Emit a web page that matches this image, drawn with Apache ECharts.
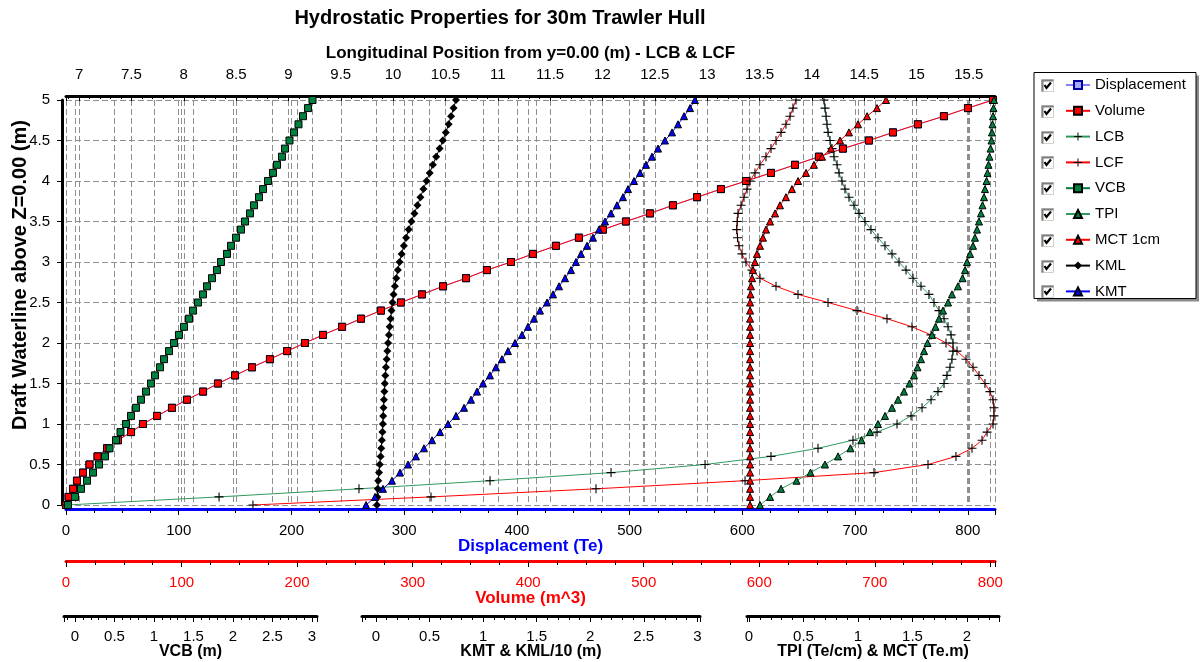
<!DOCTYPE html>
<html>
<head>
<meta charset="utf-8">
<title>Hydrostatic Properties for 30m Trawler Hull</title>
<script src="https://cdn.jsdelivr.net/npm/echarts@6/dist/echarts.min.js"></script>
<style>
  html, body { margin: 0; padding: 0; background: #ffffff; }
  #chart { width: 1204px; height: 662px; }
</style>
</head>
<body>
<div id="chart"></div>
<script>
// Draft of each computed waterline (m)
const drafts = [0, 0.1, 0.2, 0.3, 0.4, 0.5, 0.6, 0.7, 0.8, 0.9,
  1, 1.1, 1.2, 1.3, 1.4, 1.5, 1.6, 1.7, 1.8, 1.9,
  2, 2.1, 2.2, 2.3, 2.4, 2.5, 2.6, 2.7, 2.8, 2.9,
  3, 3.1, 3.2, 3.3, 3.4, 3.5, 3.6, 3.7, 3.8, 3.9,
  4, 4.1, 4.2, 4.3, 4.4, 4.5, 4.6, 4.7, 4.8, 4.9, 5];

// Displacement (Te)
const displacement = [0, 2.3, 6.3, 9.7, 15.1, 20.8, 28.0, 36.4, 46.1, 57.7,
  68.3, 80.8, 94.0, 107.3, 121.6, 134.8, 150.0, 165.0, 180.9, 196.1,
  212.0, 228.0, 244.9, 261.7, 279.4, 297.1, 315.8, 334.5, 354.9, 373.4,
  394.7, 414.2, 434.6, 455.0, 476.3, 496.7, 518.0, 538.4, 559.8, 581.0,
  603.2, 625.4, 646.7, 667.9, 689.2, 712.3, 733.6, 755.7, 778.8, 800.1, 822.3];

// Volume (m^3)
const volume = [0, 2.2, 6.1, 9.5, 14.7, 20.3, 27.3, 35.5, 45.0, 56.3,
  66.6, 78.8, 91.7, 104.7, 118.6, 131.5, 146.3, 161.0, 176.5, 191.3,
  206.8, 222.4, 238.9, 255.3, 272.6, 289.9, 308.1, 326.3, 346.2, 364.3,
  385.1, 404.1, 424.0, 443.9, 464.7, 484.6, 505.4, 525.3, 546.1, 566.8,
  588.5, 610.1, 630.9, 651.6, 672.4, 694.9, 715.7, 737.3, 759.8, 780.6, 802.2];

// Longitudinal centre of buoyancy from y=0 (m)
const lcb = [6.88, 8.337, 9.674, 10.926, 12.082, 12.980, 13.610, 14.059, 14.393, 14.623,
  14.814, 14.948, 15.053, 15.139, 15.205, 15.263, 15.291, 15.320, 15.339, 15.349,
  15.349, 15.330, 15.301, 15.263, 15.215, 15.167, 15.119, 15.043, 14.967, 14.900,
  14.833, 14.766, 14.699, 14.632, 14.565, 14.508, 14.451, 14.403, 14.355, 14.317,
  14.288, 14.260, 14.241, 14.212, 14.193, 14.174, 14.155, 14.145, 14.136, 14.126, 14.116];

// Longitudinal centre of flotation from y=0 (m)
const lcf = [8.661, 10.362, 11.938, 13.362, 14.594, 15.110, 15.377, 15.530, 15.626, 15.674,
  15.731, 15.740, 15.740, 15.731, 15.702, 15.654, 15.597, 15.540, 15.473, 15.387,
  15.282, 15.139, 14.957, 14.718, 14.432, 14.155, 13.868, 13.658, 13.505, 13.429,
  13.371, 13.333, 13.304, 13.290, 13.283, 13.287, 13.295, 13.324, 13.352, 13.381,
  13.410, 13.457, 13.505, 13.562, 13.610, 13.658, 13.706, 13.753, 13.792, 13.820, 13.849];

// Vertical centre of buoyancy (m)
const vcb = [-0.089, 0, 0.076, 0.152, 0.228, 0.304, 0.380, 0.437, 0.519, 0.576,
  0.646, 0.709, 0.772, 0.835, 0.899, 0.962, 1.013, 1.076, 1.127, 1.190,
  1.253, 1.316, 1.380, 1.443, 1.494, 1.557, 1.620, 1.671, 1.734, 1.797,
  1.848, 1.924, 1.975, 2.038, 2.101, 2.152, 2.215, 2.266, 2.329, 2.380,
  2.443, 2.506, 2.557, 2.620, 2.658, 2.715, 2.772, 2.829, 2.886, 2.949, 3.006];

// Tonnes per centimetre immersion (Te/cm)
const tpi = [0.101, 0.193, 0.294, 0.436, 0.564, 0.697, 0.817, 0.931, 1.032, 1.110,
  1.183, 1.248, 1.312, 1.367, 1.422, 1.472, 1.514, 1.546, 1.578, 1.606,
  1.638, 1.679, 1.711, 1.743, 1.780, 1.826, 1.862, 1.917, 1.959, 1.982,
  2.000, 2.028, 2.055, 2.073, 2.092, 2.110, 2.128, 2.142, 2.156, 2.165,
  2.179, 2.188, 2.197, 2.206, 2.216, 2.225, 2.229, 2.234, 2.239, 2.243, 2.248];

// Moment to change trim one centimetre (Te.m)
const mct = [0.01, 0.01, 0.01, 0.01, 0.01, 0.01, 0.01, 0.01, 0.01, 0.01,
  0.01, 0.01, 0.01, 0.01, 0.01, 0.01, 0.01, 0.01, 0.01, 0.01,
  0.01, 0.01, 0.01, 0.01, 0.01, 0.01, 0.014, 0.018, 0.028, 0.037,
  0.055, 0.073, 0.101, 0.128, 0.156, 0.193, 0.239, 0.284, 0.339, 0.394,
  0.450, 0.523, 0.596, 0.670, 0.752, 0.835, 0.917, 1.000, 1.083, 1.174, 1.257];

// Longitudinal metacentre above keel (m), drawn at 1/10 scale
const kml = [0.09, 0.12, 0.17, 0.21, 0.28, 0.35, 0.43, 0.49, 0.55, 0.60,
  0.64, 0.67, 0.70, 0.74, 0.78, 0.82, 0.87, 0.93, 1.00, 1.06,
  1.13, 1.20, 1.28, 1.36, 1.45, 1.54, 1.64, 1.76, 1.89, 2.04,
  2.20, 2.39, 2.60, 2.81, 3.05, 3.31, 3.59, 3.87, 4.15, 4.43,
  4.72, 5.01, 5.31, 5.62, 5.94, 6.24, 6.52, 6.78, 7.01, 7.24, 7.47];

// Transverse metacentre above keel (m)
const kmt = [-0.093, -0.009, 0.065, 0.149, 0.224, 0.299, 0.373, 0.448, 0.523, 0.598,
  0.672, 0.747, 0.822, 0.887, 0.943, 0.999, 1.064, 1.120, 1.176, 1.232,
  1.298, 1.363, 1.419, 1.475, 1.531, 1.597, 1.653, 1.709, 1.765, 1.821,
  1.867, 1.914, 1.970, 2.026, 2.082, 2.138, 2.194, 2.250, 2.306, 2.353,
  2.409, 2.465, 2.521, 2.577, 2.633, 2.698, 2.764, 2.820, 2.876, 2.932, 2.978];

const legendNames = ['Displacement', 'Volume', 'LCB', 'LCF', 'VCB', 'TPI', 'MCT 1cm', 'KML', 'KMT'];

// ---------------------------------------------------------------------------
const FONT = "'Liberation Sans', Arial, Helvetica, sans-serif";
const PLOT = { left: 66, top: 100, width: 929, height: 405 };
const PLOT_RIGHT = PLOT.left + PLOT.width;
const DASH = { show: true, lineStyle: { color: '#8f8f8f', width: 1, type: [6, 3] } };
const PLUS = 'path://M4.4,0H5.6V10H4.4Z M0,4.4H10V5.6H0Z';

// Short scales under the plot: pixel of zero, pixels per unit, extent of the drawn line
const SHORT_AXES = [
  { name: 'VCB (m)', zero: 75, perUnit: 79, from: 64, to: 317, last: 3, step: 0.5 },
  { name: 'KMT & KML/10 (m)', zero: 376, perUnit: 107.1, from: 362, to: 700, last: 3, step: 0.5 },
  { name: 'TPI (Te/cm) & MCT (Te.m)', zero: 749, perUnit: 109, from: 747, to: 999, last: 2, step: 0.5 }
];
const SHORT_LINE_Y = 616;

const labelStyle = { color: '#000', fontSize: 15, fontFamily: FONT };
const nameStyle = { color: '#000', fontSize: 17, fontWeight: 'bold', fontFamily: FONT };

const grids = [Object.assign({ outerBoundsMode: 'none' }, PLOT)];
const xAxes = [
  { // Displacement
    gridIndex: 0, type: 'value', position: 'bottom', offset: 4,
    min: 0, max: 824.1, minInterval: 100, maxInterval: 100,
    axisLine: { show: true, onZero: false, lineStyle: { color: '#0000ff', width: 3 } },
    axisTick: { show: true, length: 6, lineStyle: { color: '#000' } },
    minorTick: { show: true, splitNumber: 4, length: 4, lineStyle: { color: '#000' } },
    axisLabel: Object.assign({ margin: 14, showMaxLabel: false }, labelStyle),
    splitLine: DASH,
    name: 'Displacement (Te)', nameLocation: 'middle', nameGap: 29, nameMoveOverlap: false,
    nameTextStyle: Object.assign({}, nameStyle, { color: '#0000ff' })
  },
  { // Volume
    gridIndex: 0, type: 'value', position: 'bottom', offset: 56,
    min: 0, max: 804, minInterval: 100, maxInterval: 100,
    axisLine: { show: true, onZero: false, lineStyle: { color: '#ff0000', width: 3 } },
    axisTick: { show: true, length: 6, lineStyle: { color: '#000' } },
    minorTick: { show: true, splitNumber: 4, length: 4, lineStyle: { color: '#000' } },
    axisLabel: Object.assign({ margin: 14, showMaxLabel: false }, labelStyle, { color: '#ff0000' }),
    splitLine: DASH,
    name: 'Volume (m^3)', nameLocation: 'middle', nameGap: 29, nameMoveOverlap: false,
    nameTextStyle: Object.assign({}, nameStyle, { color: '#ff0000' })
  },
  { // Longitudinal position
    gridIndex: 0, type: 'value', position: 'top', offset: 4,
    min: 6.875, max: 15.75, minInterval: 0.5, maxInterval: 0.5,
    axisLine: { show: true, onZero: false, lineStyle: { color: '#000', width: 3 } },
    axisTick: { show: true, inside: true, length: 5, lineStyle: { color: '#000' } },
    minorTick: { show: true, splitNumber: 5, length: 3, lineStyle: { color: '#000' } },
    axisLabel: Object.assign({ margin: 14, showMinLabel: false, showMaxLabel: false }, labelStyle),
    splitLine: DASH,
    name: 'Longitudinal Position from y=0.00 (m) - LCB & LCF', nameLocation: 'middle', nameGap: 34,
    nameMoveOverlap: false,
    nameTextStyle: nameStyle
  }
];
// Curve scales spanning the whole plot width, calibrated like the short scales
SHORT_AXES.forEach(function (s) {
  xAxes.push({
    gridIndex: 0, type: 'value', show: false,
    min: (PLOT.left - s.zero) / s.perUnit, max: (PLOT_RIGHT - s.zero) / s.perUnit
  });
});
const yAxes = [{
  gridIndex: 0, type: 'value', min: 0, max: 5, interval: 0.5, offset: 4,
  axisLine: { show: true, onZero: false, lineStyle: { color: '#000', width: 3 } },
  axisTick: { show: true, length: 5, lineStyle: { color: '#000' } },
  axisLabel: Object.assign({ margin: 12 }, labelStyle),
  splitLine: DASH
}];
// Short scales: one grid for their grid lines, one for the drawn axis
SHORT_AXES.forEach(function (s) {
  grids.push({ outerBoundsMode: 'none', left: s.zero, width: s.last * s.perUnit, top: PLOT.top, height: PLOT.height });
  xAxes.push({
    gridIndex: grids.length - 1, type: 'value', min: 0, max: s.last, interval: s.step,
    axisLine: { show: false }, axisTick: { show: false }, axisLabel: { show: false },
    splitLine: DASH
  });
  yAxes.push({ gridIndex: grids.length - 1, type: 'value', show: false, min: 0, max: 1 });
  grids.push({ outerBoundsMode: 'none', left: s.from, width: s.to - s.from, top: PLOT.top, height: PLOT.height });
  xAxes.push({
    gridIndex: grids.length - 1, type: 'value', position: 'bottom',
    offset: SHORT_LINE_Y - (PLOT.top + PLOT.height),
    min: (s.from - s.zero) / s.perUnit, max: (s.to - s.zero) / s.perUnit,
    minInterval: s.step, maxInterval: s.step,
    axisLine: { show: true, onZero: false, lineStyle: { color: '#000', width: 3 } },
    axisTick: { show: true, length: 6, lineStyle: { color: '#000' } },
    minorTick: { show: true, splitNumber: 5, length: 4, lineStyle: { color: '#000' } },
    axisLabel: Object.assign({ margin: 13, showMinLabel: false, showMaxLabel: false }, labelStyle),
    splitLine: { show: false },
    name: s.name, nameLocation: 'middle', nameGap: 28, nameMoveOverlap: false,
    nameTextStyle: Object.assign({}, nameStyle, { fontSize: 16 })
  });
  yAxes.push({ gridIndex: grids.length - 1, type: 'value', show: false, min: 0, max: 1 });
});

function points(values, scale) {
  return values.map(function (v, i) { return [scale ? v / scale : v, drafts[i]]; });
}
function curve(name, xAxisIndex, values, line, symbol, size, item, scale) {
  return {
    name: name, type: 'line', xAxisIndex: xAxisIndex, yAxisIndex: 0,
    data: points(values, scale),
    symbol: symbol, symbolSize: size, showSymbol: true, symbolKeepAspect: true,
    lineStyle: { color: line, width: 1 },
    itemStyle: item,
    emphasis: { disabled: true }, silent: true, clip: true
  };
}

const series = [
  curve('Displacement', 0, displacement, '#7f7fff', 'rect', 7,
    { color: '#a8a8ff', borderColor: '#0000a0', borderWidth: 1 }),
  curve('Volume', 1, volume, '#ff0000', 'rect', 7,
    { color: '#ff0000', borderColor: '#000', borderWidth: 1 }),
  curve('LCB', 2, lcb, '#2e9a5c', PLUS, 9, { color: '#000' }),
  curve('LCF', 2, lcf, '#ff0000', PLUS, 9, { color: '#000' }),
  curve('VCB', 3, vcb, '#007a3d', 'rect', 7,
    { color: '#00803f', borderColor: '#000', borderWidth: 1 }),
  curve('TPI', 5, tpi, '#2e9a5c', 'triangle', 7,
    { color: '#00803f', borderColor: '#000', borderWidth: 1 }),
  curve('MCT 1cm', 5, mct, '#ff0000', 'triangle', 7,
    { color: '#ff0000', borderColor: '#000', borderWidth: 1 }),
  curve('KML', 4, kml, '#000000', 'diamond', 8, { color: '#000' }, 10),
  curve('KMT', 4, kmt, '#0000ff', 'triangle', 7,
    { color: '#0000ff', borderColor: '#000', borderWidth: 1 })
];

// Vertical axis title
const graphics = [{
  type: 'text', silent: true, x: 20, y: 275, rotation: Math.PI / 2,
  style: {
    text: 'Draft Waterline above Z=0.00 (m)', fill: '#000',
    font: "bold 20px 'Liberation Sans', Arial, sans-serif",
    align: 'center', verticalAlign: 'middle'
  }
}];

// Legend frame with drop shadow and tick boxes
const LEG = { x: 1034, y: 72.5, w: 162, h: 226, firstRow: 85, rowStep: 25.8 };
graphics.push(
  { type: 'rect', z: 1, silent: true, shape: { x: LEG.x + 3, y: LEG.y + 3, width: LEG.w, height: LEG.h }, style: { fill: '#8a8a8a' } },
  { type: 'rect', z: 2, silent: true, shape: { x: LEG.x, y: LEG.y, width: LEG.w, height: LEG.h }, style: { fill: '#ffffff', stroke: '#000000', lineWidth: 1 } }
);
legendNames.forEach(function (n, i) {
  const cy = LEG.firstRow + i * LEG.rowStep;
  const bx = 1041.5, by = Math.round(cy - 6) + 0.5;
  graphics.push(
    { type: 'rect', z: 3, silent: true, shape: { x: bx, y: by, width: 12, height: 12 }, style: { fill: '#ffffff', stroke: '#d4d0c8', lineWidth: 1 } },
    { type: 'polyline', z: 3, silent: true, shape: { points: [[bx + 1, by + 12], [bx + 1, by + 1], [bx + 12, by + 1]] }, style: { stroke: '#808080', lineWidth: 2, fill: null } },
    { type: 'polyline', z: 3, silent: true, shape: { points: [[bx + 3, by + 5.5], [bx + 5, by + 8.5], [bx + 9.5, by + 3]] }, style: { stroke: '#000000', lineWidth: 2.2, fill: null } }
  );
});

const chart = echarts.init(document.getElementById('chart'), null, { renderer: 'canvas' });
chart.setOption({
  animation: false,
  backgroundColor: '#ffffff',
  textStyle: { fontFamily: FONT },
  title: {
    text: 'Hydrostatic Properties for 30m Trawler Hull',
    left: 500, top: 8, textAlign: 'center', padding: 0,
    textStyle: { color: '#000', fontSize: 20, fontWeight: 'bold', fontFamily: FONT }
  },
  legend: {
    data: legendNames, orient: 'vertical', left: 1065, top: LEG.firstRow - 7.5,
    itemWidth: 24, itemHeight: 10, itemGap: 10.8, padding: 0, z: 10,
    selectedMode: false,
    textStyle: { color: '#000', fontSize: 15, lineHeight: 15, fontFamily: FONT }
  },
  grid: grids,
  xAxis: xAxes,
  yAxis: yAxes,
  series: series,
  graphic: graphics
});
</script>
</body>
</html>
